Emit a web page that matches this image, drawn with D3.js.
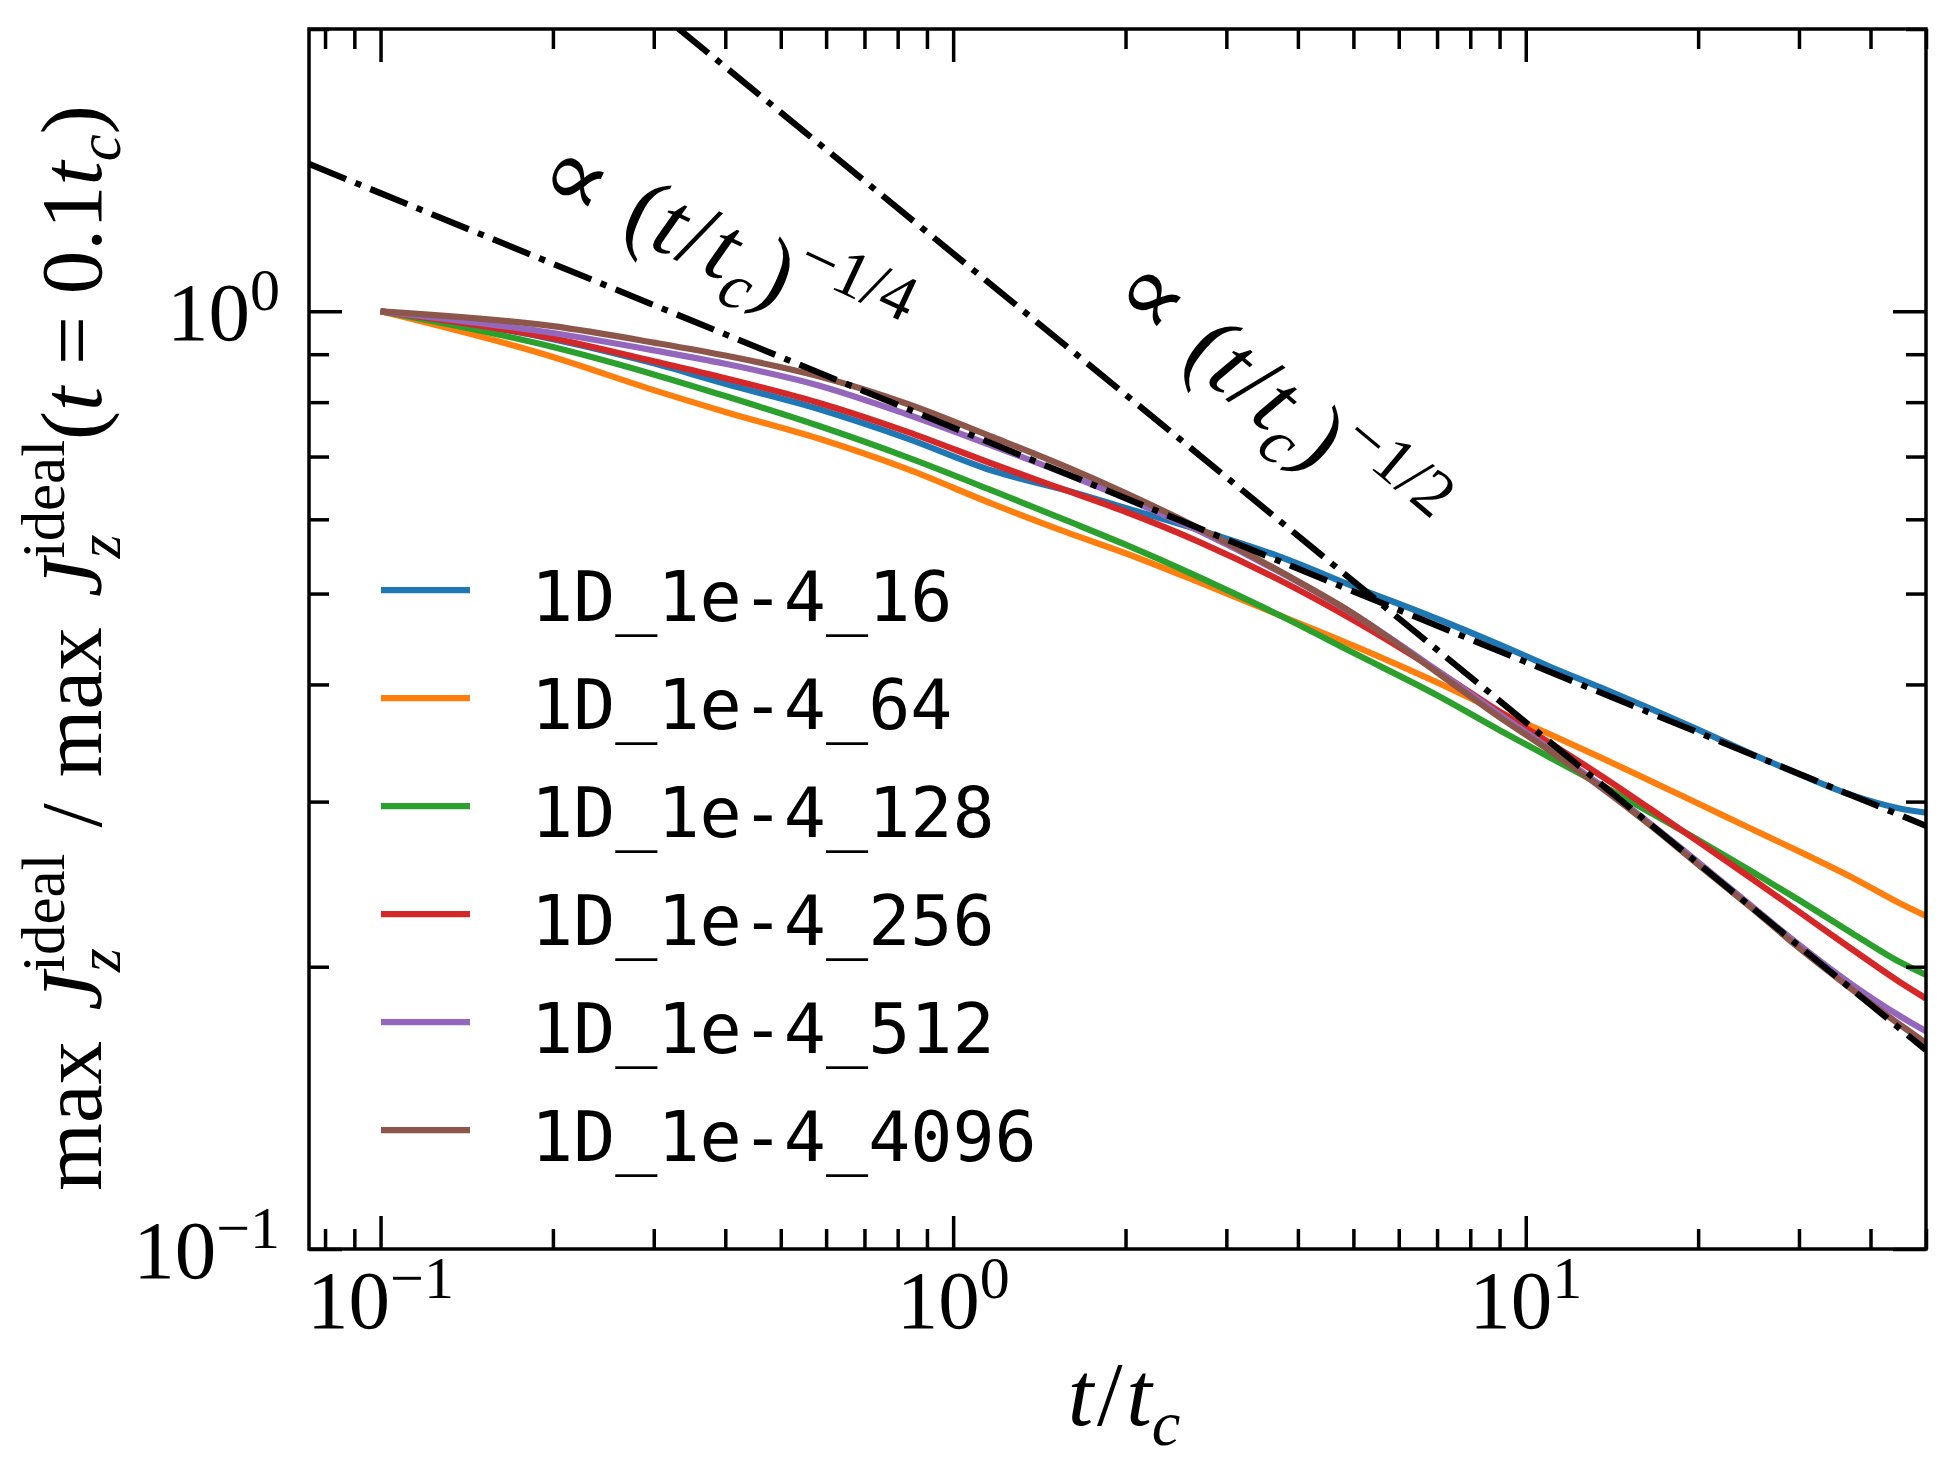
<!DOCTYPE html>
<html>
<head>
<meta charset="utf-8">
<script src="https://cdn.jsdelivr.net/npm/d3@7"></script>
<style>
body { margin: 0; background: #fff; }
</style>
</head>
<body>
<script>
// time samples (t / t_c) and the normalised peak current of each run
var times   = [0.1, 0.2, 0.3, 0.4, 0.58, 0.83, 1.18, 1.58, 2, 2.7, 3.7, 5, 7, 9, 11, 13.5, 16.5, 20, 24.6, 30, 37, 45, 50];
var run16   = [1, .934, .880, .837, .787, .732, .675, .644, .617, .584, .548, .509, .470, .441, .418, .397, .377, .358, .338, .321, .305, .295, .292];
var run64   = [1, .894, .824, .781, .732, .679, .622, .581, .552, .5135, .4746, .440, .402, .3738, .354, .3344, .3157, .2986, .2812, .2655, .2493, .2337, .2265];
var run128  = [1, .916, .8564, .812, .7553, .699, .6426, .598, .5637, .520, .4746, .4323, .3895, .3575, .3346, .3128, .2921, .2731, .2535, .2356, .2175, .2023, .196];
var run256  = [1, .936, .8845, .8485, .7995, .7442, .6864, .6437, .6113, .5671, .5176, .4685, .4136, .3741, .3466, .320, .2947, .272, .2492, .2289, .2091, .1926, .185];
var run512  = [1, .948, .9085, .879, .834, .7766, .7174, .6699, .6317, .5823, .528, .4753, .4141, .3717, .3417, .3122, .2841, .2586, .2331, .2111, .1917, .1772, .1707];
var run4096 = [1, .964, .926, .897, .853, .797, .733, .682, .640, .586, .529, .476, .412, .369, .340, .311, .283, .257, .232, .2095, .1895, .1735, .1658];

var runNames  = ["1D_1e-4_16", "1D_1e-4_64", "1D_1e-4_128", "1D_1e-4_256", "1D_1e-4_512", "1D_1e-4_4096"];
var runColors = ["#1f77b4", "#ff7f0e", "#2ca02c", "#d62728", "#9467bd", "#8c564b"];
var runValues = [run16, run64, run128, run256, run512, run4096];

// reference power laws, end points
var quarterT = [0.075, 50];
var quarterY = [1.436, 0.2827];
var halfT = [0.33, 50];
var halfY = [2.006, 0.163];

var xMajor = [0.1, 1, 10];
var xMinor = [0.08, 0.09, 0.2, 0.3, 0.4, 0.5, 0.6, 0.7, 0.8, 0.9, 2, 3, 4, 5, 6, 7, 8, 9, 20, 30, 40, 50];
var yMajor = [0.1, 1];
var yMinor = [0.2, 0.3, 0.4, 0.5, 0.6, 0.7, 0.8, 0.9, 2];
var xTickExp = ["\u22121", "0", "1"];
var yTickExp = ["\u22121", "0"];

var width = 1954, height = 1474;
var pLeft = 309, pRight = 1926, pTop = 29, pBottom = 1249;
var serif = "'Liberation Serif', 'DejaVu Serif', serif";
var mono = "'DejaVu Sans Mono', 'Liberation Mono', monospace";
var symFont = "'DejaVu Serif', serif";
var fs = 83;

var svg = d3.select("body").append("svg")
	.attr("width", width).attr("height", height);

var x = d3.scaleLog().domain([0.075, 50]).range([pLeft, pRight]);
var y = d3.scaleLog().domain([0.1, 2]).range([pBottom, pTop]);

svg.append("clipPath").attr("id", "plot")
	.append("rect").attr("x", pLeft).attr("y", pTop)
	.attr("width", pRight - pLeft).attr("height", pBottom - pTop);

var line = d3.line()
	.x(function(d) { return x(d[0]); })
	.y(function(d) { return y(d[1]); })
	.curve(d3.curveMonotoneX);

var plot = svg.append("g").attr("clip-path", "url(#plot)");

runValues.forEach(function(vals, i) {
	plot.append("path")
		.datum(d3.zip(times, vals))
		.attr("d", line)
		.attr("fill", "none")
		.attr("stroke", runColors[i])
		.attr("stroke-width", 6.25);
});

[[quarterT, quarterY], [halfT, halfY]].forEach(function(g) {
	plot.append("path")
		.datum(d3.zip(g[0], g[1]))
		.attr("d", d3.line().x(function(d) { return x(d[0]); }).y(function(d) { return y(d[1]); }))
		.attr("fill", "none")
		.attr("stroke", "#000")
		.attr("stroke-width", 6.25)
		.attr("stroke-dasharray", "40,10,6.25,10");
});

// ticks on all four sides, pointing in
function ticks(axis, vals, len, tr) {
	svg.append("g").attr("transform", tr)
		.call(axis.tickValues(vals).tickSizeInner(-len).tickSizeOuter(0).tickFormat(""))
		.call(function(g) {
			g.select(".domain").remove();
			g.selectAll("line").attr("stroke", "#000").attr("stroke-width", 3.5);
		});
}
ticks(d3.axisBottom(x), xMajor, 33, "translate(0," + pBottom + ")");
ticks(d3.axisBottom(x), xMinor, 20, "translate(0," + pBottom + ")");
ticks(d3.axisTop(x), xMajor, 33, "translate(0," + pTop + ")");
ticks(d3.axisTop(x), xMinor, 20, "translate(0," + pTop + ")");
ticks(d3.axisLeft(y), yMajor, 33, "translate(" + pLeft + ",0)");
ticks(d3.axisLeft(y), yMinor, 20, "translate(" + pLeft + ",0)");
ticks(d3.axisRight(y), yMajor, 33, "translate(" + pRight + ",0)");
ticks(d3.axisRight(y), yMinor, 20, "translate(" + pRight + ",0)");

svg.append("rect").attr("x", pLeft).attr("y", pTop)
	.attr("width", pRight - pLeft).attr("height", pBottom - pTop)
	.attr("fill", "none").attr("stroke", "#000").attr("stroke-width", 3.5);

// tick labels 10^n
xMajor.forEach(function(v, i) {
	svg.append("text").attr("x", x(v)).attr("y", 1328)
		.attr("text-anchor", "middle").attr("font-family", serif).attr("font-size", fs)
		.text("10").append("tspan").attr("dy", -30).attr("font-size", 60).text(xTickExp[i]);
});
yMajor.forEach(function(v, i) {
	svg.append("text").attr("x", 280).attr("y", y(v) + 29)
		.attr("text-anchor", "end").attr("font-family", serif).attr("font-size", fs)
		.text("10").append("tspan").attr("dy", -30).attr("font-size", 60).text(yTickExp[i]);
});

// little math layout: text pieces, sub/superscripts stacked
function piece(g, str, px, py, size, italic, fam) {
	var t = g.append("text").attr("x", px).attr("y", py)
		.attr("font-family", fam || serif).attr("font-size", size)
		.attr("font-style", italic ? "italic" : "normal").text(str);
	return t.node().getComputedTextLength();
}
function mathText(g, parts, size) {
	var cx = 0;
	parts.forEach(function(p) {
		if (p.sp) cx += p.sp * size;
		else if (p.t) cx += piece(g, p.t, cx, 0, size * (p.k || 1), p.it, p.fam);
		else {
			var w1 = p.sup ? piece(g, p.sup, cx, -0.42 * size, 0.7 * size, false) : 0;
			var w2 = p.sub ? piece(g, p.sub, cx, 0.22 * size, 0.7 * size, true) : 0;
			cx += Math.max(w1, w2);
		}
	});
	return cx;
}
function placeMath(tr, parts, size, dy) {
	var outer = svg.append("g").attr("transform", tr);
	var inner = outer.append("g");
	var w = mathText(inner, parts, size);
	inner.attr("transform", "translate(" + (-w / 2) + "," + (dy || 0) + ")");
}

placeMath("translate(1124,1425)",
	[{t: "t", it: 1}, {sp: 0.04}, {t: "/"}, {sp: 0.04}, {t: "t", it: 1}, {sub: "c"}], 92);

placeMath("translate(101,648) rotate(-90)",
	[{t: "max"}, {sp: 0.35}, {t: "J", it: 1}, {sup: "ideal", sub: "z"}, {sp: 0.3}, {t: "/"}, {sp: 0.3},
	 {t: "max"}, {sp: 0.35}, {t: "J", it: 1}, {sup: "ideal", sub: "z"}, {t: "("}, {t: "t", it: 1},
	 {sp: 0.25}, {t: "="}, {sp: 0.25}, {t: "0.1"}, {t: "t", it: 1}, {sub: "c"}, {t: ")"}], 87);

var annSize = 94;
placeMath("translate(722,250) rotate(25)",
	[{t: "\u221d", fam: symFont, k: 1.05}, {sp: 0.3}, {t: "("}, {t: "t", it: 1}, {sp: 0.03}, {t: "/"},
	 {sp: 0.03}, {t: "t", it: 1}, {sub: "c"}, {t: ")"}, {sup: "\u22121/4"}], annSize, 0.3 * annSize);

placeMath("translate(1275,403) rotate(40)",
	[{t: "\u221d", fam: symFont, k: 1.05}, {sp: 0.3}, {t: "("}, {t: "t", it: 1}, {sp: 0.03}, {t: "/"},
	 {sp: 0.03}, {t: "t", it: 1}, {sub: "c"}, {t: ")"}, {sup: "\u22121/2"}], annSize, 0.3 * annSize);

// legend
var legend = svg.append("g");
runNames.forEach(function(name, i) {
	var ly = 590 + i * 108;
	legend.append("line").attr("x1", 381).attr("x2", 470).attr("y1", ly).attr("y2", ly)
		.attr("stroke", runColors[i]).attr("stroke-width", 6.25);
	legend.append("text").attr("x", 531).attr("y", ly + 31)
		.attr("font-family", mono).attr("font-size", 70).text(name);
});
</script>
</body>
</html>
